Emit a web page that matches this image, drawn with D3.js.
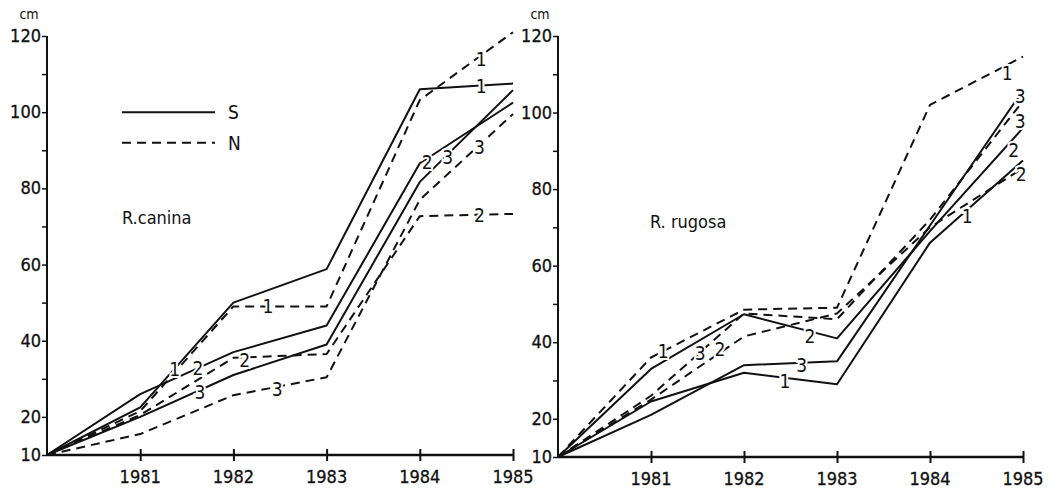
<!DOCTYPE html>
<html>
<head>
<meta charset="utf-8">
<script src="https://cdn.jsdelivr.net/npm/d3@7/dist/d3.min.js"></script>
<style>
  body { margin: 0; background: #fff; }
  text { font-family: "Liberation Sans Narrow", "DejaVu Sans Condensed", sans-serif; fill: #111; }
</style>
</head>
<body>
<div id="chart"></div>
<script>
// years on the x axis
const years = [1980, 1981, 1982, 1983, 1984, 1985];
const yTickLabels = [10, 20, 40, 60, 80, 100, 120];
const yMinorTicks = [10, 20, 30, 40, 50, 60, 70, 80, 90, 100, 110, 120];

// R. canina, height in cm (S = solid, N = dashed)
const caninaS1 = [10, 22.5, 50, 58.8, 106, 107.5];
const caninaS2 = [10, 26, 37, 44, 86.6, 102.5];
const caninaS3 = [10, 20, 31, 39, 81.7, 105.8];
const caninaN1 = [10, 21.5, 49, 49, 103.2, 121];
const caninaN2 = [10, 20.5, 35.5, 36.5, 72.7, 73.3];
const caninaN3 = [10, 15.5, 25.7, 30.4, 77, 99.5];

// R. rugosa
const rugosaS1 = [10, 24.5, 32, 29, 66, 87.5];
const rugosaS2 = [10, 33, 47.3, 41, 69, 96];
const rugosaS3 = [10, 21, 34, 35, 70.5, 105.8];
const rugosaN1 = [10, 36, 48.5, 49, 102, 114.6];
const rugosaN2 = [10, 25, 41.5, 47.5, 70, 85.5];
const rugosaN3 = [10, 26, 47.5, 46, 72, 103];

// line number labels: [series, year position, text, vertical nudge]
const caninaLabels = [
  ["S1", 1981.37, "1", 0], ["S2", 1981.62, "2", 0], ["S3", 1981.64, "3", 2],
  ["N2", 1982.12, "2", 3], ["N1", 1982.37, "1", 0], ["N3", 1982.47, "3", 2],
  ["S1", 1984.66, "1", 0], ["N1", 1984.66, "1", 4], ["S2", 1984.08, "2", 4],
  ["S3", 1984.3, "3", 3], ["N3", 1984.64, "3", 2], ["N2", 1984.64, "2", 0]
];
const rugosaLabels = [
  ["N1", 1981.13, "1", 0], ["N3", 1981.53, "3", 1], ["N2", 1981.74, "2", -4],
  ["S2", 1982.71, "2", 5], ["S3", 1982.62, "3", 2], ["S1", 1982.44, "1", 3],
  ["S1", 1984.4, "1", 6], ["N1", 1984.83, "1", 8], ["S3", 1984.97, "3", 2],
  ["N3", 1984.97, "3", 16], ["S2", 1984.9, "2", 12], ["N2", 1984.98, "2", 5]
];

const width = 1051, height = 489;

const svg = d3.select("#chart").append("svg")
  .attr("width", width)
  .attr("height", height)
  .style("background", "#fff");

const panels = [
  {
    name: "R.canina", left: 47, right: 513, top: 36, bottom: 455,
    nameX: 122, nameY: 224,
    series: { S1: caninaS1, S2: caninaS2, S3: caninaS3, N1: caninaN1, N2: caninaN2, N3: caninaN3 },
    labels: caninaLabels, legend: true
  },
  {
    name: "R. rugosa", left: 558, right: 1023, top: 36, bottom: 457,
    nameX: 650, nameY: 228,
    series: { S1: rugosaS1, S2: rugosaS2, S3: rugosaS3, N1: rugosaN1, N2: rugosaN2, N3: rugosaN3 },
    labels: rugosaLabels, legend: false
  }
];

panels.forEach(p => {
  const x = d3.scaleLinear().domain([1980, 1985]).range([p.left, p.right]);
  const y = d3.scaleLinear().domain([10, 120]).range([p.bottom, p.top]);
  const g = svg.append("g");

  // y axis
  const yAxis = d3.axisLeft(y).tickValues(yMinorTicks).tickSize(5).tickFormat("");
  const ya = g.append("g").attr("transform", `translate(${p.left},0)`).call(yAxis);
  ya.select(".domain").attr("stroke", "#111").attr("stroke-width", 2).attr("d", `M0,${p.top}V${p.bottom}`);
  ya.selectAll(".tick line").attr("stroke", "#111").attr("stroke-width", 1.5);

  g.selectAll(".ylab").data(yTickLabels).enter().append("text")
    .attr("x", p.left - 6)
    .attr("y", d => y(d) + 6)
    .attr("text-anchor", "end")
    .attr("stroke", "#111").attr("stroke-width", 0.3)
    .style("font-size", "18px")
    .text(d => d);

  g.append("text")
    .attr("x", p.left - 18)
    .attr("y", p.top - 17)
    .attr("text-anchor", "middle")
    .style("font-size", "14px")
    .text("cm");

  // x axis, ticks crossing the line
  const xAxis = d3.axisBottom(x).tickValues(years.slice(1)).tickSize(0).tickFormat("");
  const xa = g.append("g").attr("transform", `translate(0,${p.bottom})`).call(xAxis);
  xa.select(".domain").attr("stroke", "#111").attr("stroke-width", 2.5).attr("d", `M${p.left},0H${p.right}`);
  xa.selectAll(".tick line").attr("stroke", "#111").attr("stroke-width", 2).attr("y1", -6).attr("y2", 6);

  g.selectAll(".xlab").data(years.slice(1)).enter().append("text")
    .attr("x", d => x(d))
    .attr("y", p.bottom + 28)
    .attr("text-anchor", "middle")
    .attr("stroke", "#111").attr("stroke-width", 0.3)
    .style("font-size", "18px")
    .text(d => d);

  // lines
  const line = d3.line().x((d, i) => x(years[i])).y(d => y(d));
  Object.entries(p.series).forEach(([key, vals]) => {
    g.append("path")
      .datum(vals)
      .attr("d", line)
      .attr("fill", "none")
      .attr("stroke", "#111")
      .attr("stroke-width", 2)
      .attr("stroke-linejoin", "round")
      .attr("stroke-dasharray", key[0] === "N" ? "9,6" : null);
  });

  // line numbers sitting on the lines
  const interp = (vals, t) => {
    const i = Math.min(Math.floor(t - 1980), 4);
    const f = t - 1980 - i;
    return vals[i] + (vals[i + 1] - vals[i]) * f;
  };
  g.selectAll(".num").data(p.labels).enter().append("text")
    .attr("x", d => x(d[1]))
    .attr("y", d => y(interp(p.series[d[0]], d[1])) + 7 + d[3])
    .attr("text-anchor", "middle")
    .attr("stroke", "#fff")
    .attr("stroke-width", 4)
    .attr("paint-order", "stroke")
    .style("font-size", "19px")
    .text(d => d[2]);

  g.append("text")
    .attr("x", p.nameX)
    .attr("y", p.nameY)
    .style("font-size", "18px")
    .text(p.name);

  // legend
  if (p.legend) {
    const lg = g.append("g");
    const rows = [["S", null, 100], ["N", "9,6", 92]];
    lg.selectAll("line").data(rows).enter().append("line")
      .attr("x1", 122).attr("x2", 215)
      .attr("y1", d => y(d[2])).attr("y2", d => y(d[2]))
      .attr("stroke", "#111").attr("stroke-width", 2)
      .attr("stroke-dasharray", d => d[1]);
    lg.selectAll("text").data(rows).enter().append("text")
      .attr("x", 228)
      .attr("y", d => y(d[2]) + 7)
      .style("font-size", "19px")
      .text(d => d[0]);
  }
});
</script>
</body>
</html>
